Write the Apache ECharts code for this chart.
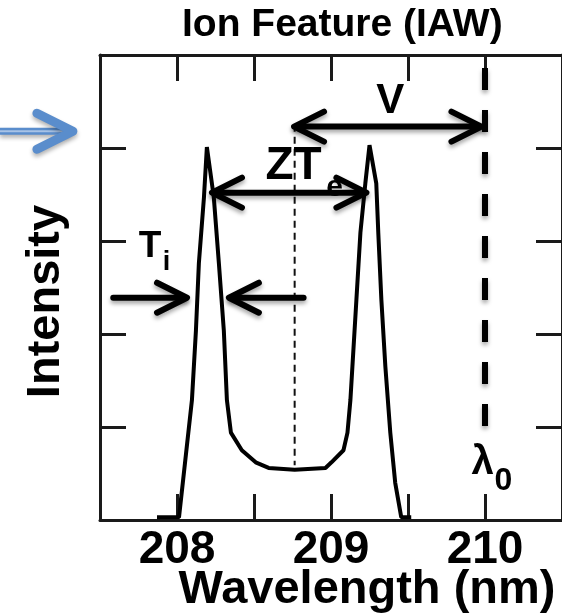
<!DOCTYPE html>
<html>
<head>
<meta charset="utf-8">
<script src="https://cdn.jsdelivr.net/npm/echarts@6/dist/echarts.min.js"></script>
<style>html,body{margin:0;padding:0;background:#fff}#main{width:562px;height:616px}</style>
</head>
<body>
<div id="main"></div>
<script>
// spectrum
var wavelength = [207.87, 208.0, 208.013, 208.097, 208.123, 208.142, 208.175, 208.194, 208.205,
  208.239, 208.272, 208.304, 208.324, 208.35, 208.421, 208.511, 208.595, 208.764, 208.964,
  209.003, 209.081, 209.107, 209.126, 209.165, 209.191, 209.223, 209.25, 209.262,
  209.294, 209.307, 209.327, 209.353, 209.385, 209.417, 209.456, 209.521];
var intensity = [0.03, 0.03, 0.03, 1.29, 2.04, 2.76, 3.47, 4.01, 4.01,
  3.47, 2.76, 2.04, 1.29, 0.94, 0.75, 0.62, 0.56, 0.54, 0.56,
  0.62, 0.75, 0.94, 1.29, 2.37, 3.09, 3.62, 4.03, 4.03,
  3.62, 3.09, 2.37, 1.65, 0.94, 0.40, 0.03, 0.03];
var xTicks = [208, 209, 210];

// lambda0 line and the centre line
var lambda0 = 210;
var lambda0Span = [4.86, 0.97];
var centre = 208.764;
var centreSpan = [4.25, 0.59];

// arrows: from, to, height, which end has a head
var arrowFrom = [208.76, 208.227, 207.573, 208.337];
var arrowTo = [209.977, 209.23, 208.065, 208.835];
var arrowLevel = [4.23, 3.52, 2.39, 2.39];
var arrowHeads = ['both', 'both', 'end', 'start'];

// labels in the plot
var noteText = ['V', 'ZT', 'e', 'T', 'i', '\u03bb', '0'];
var noteX = [209.385, 208.757, 209.023, 207.825, 207.932, 209.984, 210.12];
var noteY = [4.50, 3.80, 3.57, 2.94, 2.77, 0.61, 0.42];

var F = '"Liberation Sans", Arial, sans-serif';
var noteFont = [42, 46, 30, 37, 27, 40, 32];
var dark = '#1a1a1a';

var myChart = echarts.init(document.getElementById('main'));

function axisX(pos) {
  return {
    type: 'value', position: pos, min: 207.5, max: 210.5, interval: 0.5,
    axisLine: {onZero: false, lineStyle: {color: dark, width: 3}},
    axisTick: {inside: true, length: 26, lineStyle: {color: dark, width: 3}},
    splitLine: {show: false},
    axisLabel: {show: false}
  };
}
function axisY(pos) {
  return {
    type: 'value', position: pos, min: 0, max: 5, interval: 1,
    axisLine: {onZero: false, lineStyle: {color: dark, width: 3}},
    axisTick: {inside: true, length: 26, lineStyle: {color: dark, width: 3}},
    splitLine: {show: false},
    axisLabel: {show: false}
  };
}

var xb = axisX('bottom');
xb.axisLabel = {
  show: true, margin: 7, color: '#000', fontSize: 46, fontWeight: 'bold', fontFamily: F,
  formatter: function (v) { return xTicks.indexOf(v) >= 0 ? String(v) : ''; }
};
xb.name = 'Wavelength (nm)';
xb.nameLocation = 'middle';
xb.nameGap = 47;
xb.nameMoveOverlap = false;
xb.nameTextStyle = {fontSize: 47, fontWeight: 'bold', fontFamily: F, color: '#000', padding: [0, 0, 0, 72]};

var yl = axisY('left');
yl.name = 'Intensity';
yl.nameLocation = 'middle';
yl.nameGap = 30;
yl.nameMoveOverlap = false;
yl.nameTextStyle = {fontSize: 47, fontWeight: 'bold', fontFamily: F, color: '#000', padding: [0, 28, 0, 0]};

var shadow = {shadowBlur: 4, shadowColor: 'rgba(0,0,0,0.35)', shadowOffsetY: 3};

function renderArrow(params, api) {
  var i = params.dataIndex;
  var a = api.coord([api.value(0), api.value(2)]);
  var b = api.coord([api.value(1), api.value(2)]);
  var hx = 30, hy = 15;
  var st = Object.assign({stroke: '#000', lineWidth: 6, lineCap: 'round', lineJoin: 'round', fill: 'none'}, shadow);
  var kids = [{type: 'line', shape: {x1: a[0] + 2, y1: a[1], x2: b[0] - 2, y2: b[1]}, style: st}];
  var h = arrowHeads[i];
  if (h === 'both' || h === 'start') {
    kids.push({type: 'polyline', shape: {points: [[a[0] + hx, a[1] - hy], [a[0], a[1]], [a[0] + hx, a[1] + hy]]}, style: st});
  }
  if (h === 'both' || h === 'end') {
    kids.push({type: 'polyline', shape: {points: [[b[0] - hx, b[1] - hy], [b[0], b[1]], [b[0] - hx, b[1] + hy]]}, style: st});
  }
  return {type: 'group', children: kids};
}

function renderNote(params, api) {
  var i = params.dataIndex;
  var p = api.coord([api.value(0), api.value(1)]);
  return {
    type: 'text', x: p[0], y: p[1],
    style: {text: noteText[i], fontSize: noteFont[i], fontWeight: 'bold', fontFamily: F,
      fill: '#000', align: 'center', verticalAlign: 'middle'}
  };
}

// blue pointer left of the frame
function renderPointer(params, api) {
  var a = api.coord([api.value(0), api.value(2)]);
  var b = api.coord([api.value(1), api.value(2)]);
  var blue = '#5a8dcc';
  var sh = {shadowBlur: 4, shadowColor: 'rgba(0,0,0,0.3)', shadowOffsetY: 3};
  return {type: 'group', children: [
    {type: 'line', shape: {x1: a[0], y1: a[1], x2: b[0] - 8, y2: b[1]},
      style: Object.assign({stroke: blue, lineWidth: 7, fill: 'none'}, sh)},
    {type: 'line', shape: {x1: a[0], y1: a[1], x2: b[0] - 14, y2: b[1]},
      style: {stroke: '#a8c3e6', lineWidth: 2, fill: 'none'}},
    {type: 'polyline', shape: {points: [[b[0] - 40, b[1] - 18], [b[0] - 4, b[1]], [b[0] - 40, b[1] + 18]]},
      style: Object.assign({stroke: blue, lineWidth: 9, lineCap: 'round', lineJoin: 'round', fill: 'none'}, sh)}
  ]};
}

option = {
  animation: false,
  backgroundColor: '#fff',
  title: {
    text: 'Ion Feature (IAW)',
    left: 182, top: 6, padding: 0,
    textStyle: {fontSize: 39, fontWeight: 'bold', fontFamily: F, color: '#000'}
  },
  grid: {left: 100, right: 0, top: 55, bottom: 96, outerBoundsMode: 'none', containLabel: false},
  xAxis: [xb, axisX('top')],
  yAxis: [yl, axisY('right')],
  series: [
    {
      name: 'spectrum', type: 'line', symbol: 'none', z: 2,
      lineStyle: {color: '#000', width: 4},
      data: wavelength.map(function (w, i) { return [w, intensity[i]]; })
    },
    {
      name: 'lambda0', type: 'line', symbol: 'none', z: 3,
      lineStyle: Object.assign({color: '#000', width: 6, type: [22, 20]}, shadow),
      data: [[lambda0, lambda0Span[0]], [lambda0, lambda0Span[1]]]
    },
    {
      name: 'centre', type: 'line', symbol: 'none', z: 2,
      lineStyle: {color: '#111', width: 2, type: [7, 5]},
      data: [[centre, centreSpan[0]], [centre, centreSpan[1]]]
    },
    {
      name: 'notes', type: 'custom', z: 3, renderItem: renderNote,
      data: noteX.map(function (x, i) { return [x, noteY[i]]; })
    },
    {
      name: 'arrows', type: 'custom', z: 4, renderItem: renderArrow,
      encode: {x: [0, 1], y: 2},
      data: arrowFrom.map(function (x, i) { return [x, arrowTo[i], arrowLevel[i]]; })
    },
    {
      name: 'pointer', type: 'custom', z: 4, renderItem: renderPointer, clip: false,
      encode: {x: [0, 1], y: 2},
      data: [[206.85, 207.35, 4.18]]
    }
  ]
};
myChart.setOption(option);
</script>
</body>
</html>
